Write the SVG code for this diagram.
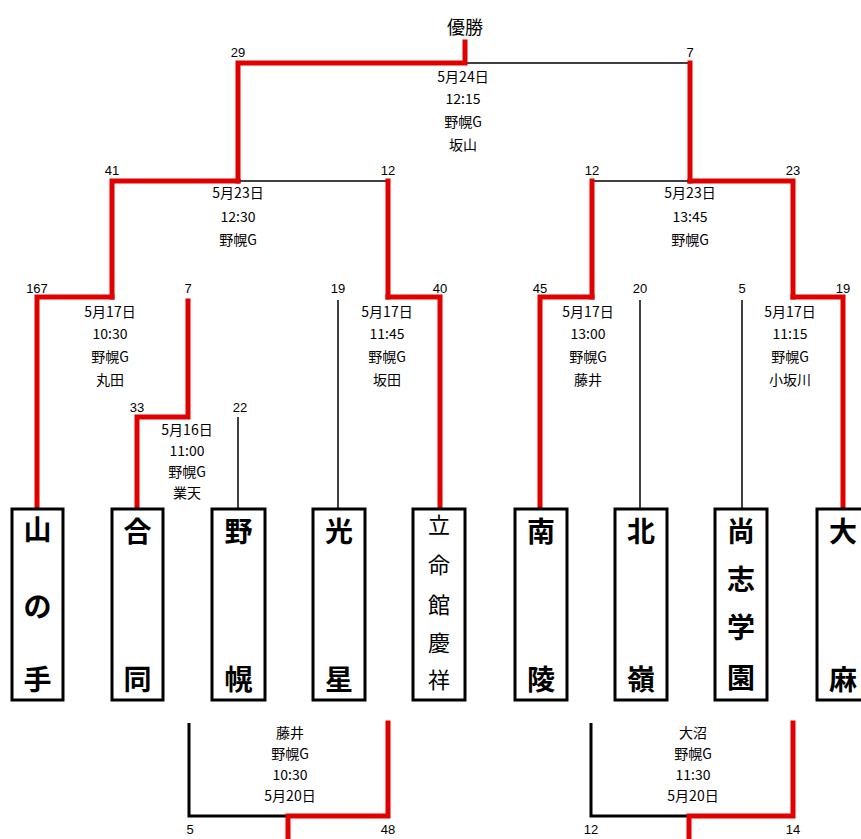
<svg xmlns="http://www.w3.org/2000/svg" width="861" height="839" viewBox="0 0 861 839">
<style>
.r{stroke:#e00000;stroke-width:5;fill:none;stroke-linecap:square}
.k{stroke:#000;stroke-width:1.5;fill:none}
.kb{stroke:#000;stroke-width:3;fill:none}
.box{fill:#fff;stroke:#000;stroke-width:3}
.t{font-family:"Noto Sans CJK JP","Liberation Sans",sans-serif;font-size:14px;fill:#000;text-anchor:middle}
.s{font-family:"Liberation Sans","Noto Sans CJK JP",sans-serif;font-size:13px;fill:#000;text-anchor:middle}
.n{font-family:"Noto Sans CJK JP",sans-serif;font-size:28px;font-weight:bold;fill:#000;text-anchor:middle}
.n5{font-family:"Noto Sans CJK JP",sans-serif;font-size:22px;fill:#000;text-anchor:middle}
</style>
<rect width="861" height="839" fill="#fff"/>
<g id="connectors">
<path class="k" d="M465 63 H690"/>
<path class="r" d="M465 42 V63 H238 V181"/>
<path class="r" d="M690 63 V181"/>
<path class="k" d="M238 181 H388"/>
<path class="r" d="M238 181 H112 V297"/>
<path class="r" d="M388 181 V297"/>
<path class="k" d="M592 181 H690"/>
<path class="r" d="M690 181 H793 V297"/>
<path class="r" d="M592 181 V297"/>
<path class="r" d="M112 297 H37 V509"/>
<path class="r" d="M188 301 V417 H137 V509"/>
<path class="k" d="M238 417 V509"/>
<path class="k" d="M338 300 V509"/>
<path class="r" d="M388 297 H440 V509"/>
<path class="r" d="M592 297 H540 V509"/>
<path class="k" d="M640 300 V509"/>
<path class="k" d="M742 300 V509"/>
<path class="r" d="M793 297 H843 V509"/>
<path class="kb" d="M189 723 V816 H288"/>
<path class="r" d="M388 723 V816 H288 V839"/>
<path class="kb" d="M591 723 V816 H689"/>
<path class="r" d="M793 723 V816 H689 V839"/>
</g>
<g id="labels">
<text class="t" x="465" y="34" style="font-size:18px">優勝</text>
<text class="s" x="238" y="57">29</text>
<text class="s" x="690" y="57">7</text>
<text class="t" x="463" y="82">5月24日</text>
<text class="t" x="463" y="104">12:15</text>
<text class="t" x="463" y="127">野幌G</text>
<text class="t" x="463" y="150">坂山</text>

<text class="s" x="112" y="175">41</text>
<text class="s" x="388" y="175">12</text>
<text class="s" x="592" y="175">12</text>
<text class="s" x="793" y="175">23</text>
<text class="t" x="238" y="198">5月23日</text>
<text class="t" x="238" y="222">12:30</text>
<text class="t" x="238" y="245">野幌G</text>
<text class="t" x="690" y="198">5月23日</text>
<text class="t" x="690" y="222">13:45</text>
<text class="t" x="690" y="245">野幌G</text>

<text class="s" x="37" y="293">167</text>
<text class="s" x="188" y="293">7</text>
<text class="s" x="338" y="293">19</text>
<text class="s" x="440" y="293">40</text>
<text class="s" x="540" y="293">45</text>
<text class="s" x="640" y="293">20</text>
<text class="s" x="742" y="293">5</text>
<text class="s" x="843" y="293">19</text>

<text class="t" x="110" y="317">5月17日</text>
<text class="t" x="110" y="339">10:30</text>
<text class="t" x="110" y="362">野幌G</text>
<text class="t" x="110" y="385">丸田</text>
<text class="t" x="387" y="317">5月17日</text>
<text class="t" x="387" y="339">11:45</text>
<text class="t" x="387" y="362">野幌G</text>
<text class="t" x="387" y="385">坂田</text>
<text class="t" x="588" y="317">5月17日</text>
<text class="t" x="588" y="339">13:00</text>
<text class="t" x="588" y="362">野幌G</text>
<text class="t" x="588" y="385">藤井</text>
<text class="t" x="790" y="317">5月17日</text>
<text class="t" x="790" y="339">11:15</text>
<text class="t" x="790" y="362">野幌G</text>
<text class="t" x="790" y="385">小坂川</text>

<text class="s" x="137" y="412">33</text>
<text class="s" x="240" y="412">22</text>
<text class="t" x="187" y="435">5月16日</text>
<text class="t" x="187" y="456">11:00</text>
<text class="t" x="187" y="477">野幌G</text>
<text class="t" x="187" y="498">業天</text>

<text class="t" x="290" y="738">藤井</text>
<text class="t" x="290" y="759">野幌G</text>
<text class="t" x="290" y="780">10:30</text>
<text class="t" x="290" y="801">5月20日</text>
<text class="s" x="190" y="834">5</text>
<text class="s" x="388" y="834">48</text>
<text class="t" x="693" y="738">大沼</text>
<text class="t" x="693" y="759">野幌G</text>
<text class="t" x="693" y="780">11:30</text>
<text class="t" x="693" y="801">5月20日</text>
<text class="s" x="591" y="834">12</text>
<text class="s" x="793" y="834">14</text>
</g>
<g id="team-yamanote"><rect class="box" x="12" y="509" width="51" height="191"/><text class="n" x="37.5" y="540">山</text><text class="n" x="37.5" y="617">の</text><text class="n" x="37.5" y="690">手</text></g>
<g id="team-godo"><rect class="box" x="112" y="509" width="51" height="191"/><text class="n" x="137.5" y="542">合</text><text class="n" x="137.5" y="690">同</text></g>
<g id="team-nopporo"><rect class="box" x="212" y="509" width="53" height="191"/><text class="n" x="238.5" y="542">野</text><text class="n" x="238.5" y="690">幌</text></g>
<g id="team-kosei"><rect class="box" x="313" y="509" width="52" height="191"/><text class="n" x="339" y="542">光</text><text class="n" x="339" y="690">星</text></g>
<g id="team-ritsumeikan"><rect class="box" x="413" y="509" width="52" height="191"/><text class="n5" x="439" y="533">立</text><text class="n5" x="439" y="573">命</text><text class="n5" x="439" y="613">館</text><text class="n5" x="439" y="651">慶</text><text class="n5" x="439" y="688">祥</text></g>
<g id="team-nanryo"><rect class="box" x="515" y="509" width="52" height="191"/><text class="n" x="541" y="542">南</text><text class="n" x="541" y="690">陵</text></g>
<g id="team-hokurei"><rect class="box" x="615" y="509" width="52" height="191"/><text class="n" x="641" y="542">北</text><text class="n" x="641" y="690">嶺</text></g>
<g id="team-shoshi"><rect class="box" x="715" y="509" width="52" height="191"/><text class="n" x="741" y="542">尚</text><text class="n" x="741" y="590">志</text><text class="n" x="741" y="638">学</text><text class="n" x="741" y="688">園</text></g>
<g id="team-oasa"><rect class="box" x="817" y="509" width="52" height="191"/><text class="n" x="843" y="542">大</text><text class="n" x="843" y="690">麻</text></g>
</svg>
